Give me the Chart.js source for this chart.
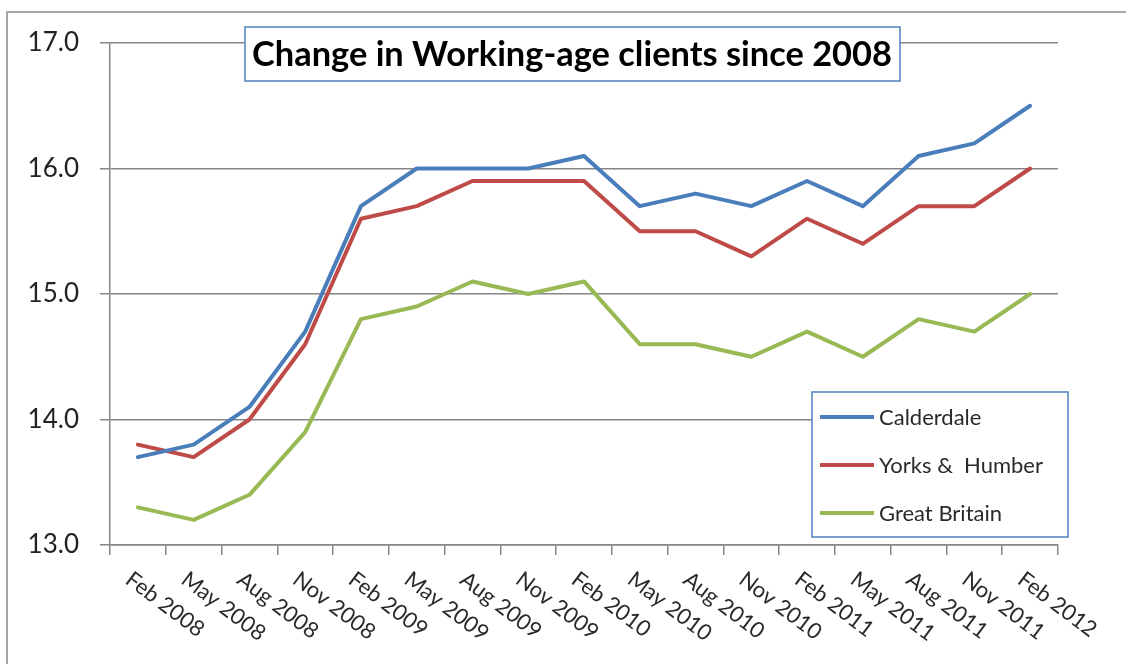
<!DOCTYPE html>
<html>
<head>
<meta charset="utf-8">
<script src="https://cdn.jsdelivr.net/npm/chart.js@4/dist/chart.umd.min.js"></script>
<style>
  html, body { margin: 0; padding: 0; background: #fff; }
  #wrap { width: 1126px; height: 664px; position: relative; }
</style>
</head>
<body>
<div id="wrap"><canvas id="lineChart"></canvas></div>
<script>
// Data
const chartTitle = "Change in Working-age clients since 2008";
const months = ["Feb 2008", "May 2008", "Aug 2008", "Nov 2008", "Feb 2009", "May 2009", "Aug 2009", "Nov 2009",
    "Feb 2010", "May 2010", "Aug 2010", "Nov 2010", "Feb 2011", "May 2011", "Aug 2011", "Nov 2011", "Feb 2012"];
const seriesNames = ["Calderdale", "Yorks &  Humber", "Great Britain"];
const calderdale = [13.7, 13.8, 14.1, 14.7, 15.7, 16.0, 16.0, 16.0, 16.1, 15.7, 15.8, 15.7, 15.9, 15.7, 16.1, 16.2, 16.5];
const yorksHumber = [13.8, 13.7, 14.0, 14.6, 15.6, 15.7, 15.9, 15.9, 15.9, 15.5, 15.5, 15.3, 15.6, 15.4, 15.7, 15.7, 16.0];
const greatBritain = [13.3, 13.2, 13.4, 13.9, 14.8, 14.9, 15.1, 15.0, 15.1, 14.6, 14.6, 14.5, 14.7, 14.5, 14.8, 14.7, 15.0];
const yTicks = [13, 14, 15, 16, 17];

const colors = ["#4A7EBB", "#BE4B48", "#98B954"];
const font = "Lato, 'Open Sans', sans-serif";

// outer frame, title box, legend box and slanted month labels
const extras = {
    id: "extras",
    beforeDraw(chart) {
        const ctx = chart.ctx;
        ctx.save();
        ctx.strokeStyle = "#a6a6a6";
        ctx.lineWidth = 2;
        ctx.beginPath();
        ctx.moveTo(7, 664);
        ctx.lineTo(7, 12);
        ctx.lineTo(1126, 12);
        ctx.stroke();
        ctx.restore();
    },
    afterDraw(chart) {
        const ctx = chart.ctx;
        const xs = chart.scales.x;
        ctx.save();

        // month labels, running down to the right
        ctx.fillStyle = "#2a2a2a";
        ctx.font = "22px " + font;
        ctx.textAlign = "left";
        ctx.textBaseline = "top";
        months.forEach((m, i) => {
            const x = xs.getPixelForValue(i);
            ctx.save();
            ctx.translate(x - 3, 568);
            ctx.rotate(37 * Math.PI / 180);
            ctx.fillText(m, 0, 0);
            ctx.restore();
        });

        // title box
        ctx.fillStyle = "#fff";
        ctx.fillRect(245, 27, 655, 54);
        ctx.strokeStyle = "#4F81BD";
        ctx.lineWidth = 1.5;
        ctx.strokeRect(245, 27, 655, 54);
        let size = 28;
        ctx.font = "bold " + size + "px " + font;
        size = size * 640 / ctx.measureText(chartTitle).width;
        ctx.font = "bold " + size.toFixed(1) + "px " + font;
        ctx.fillStyle = "#000";
        ctx.textAlign = "center";
        ctx.textBaseline = "middle";
        ctx.fillText(chartTitle, 572, 55);

        // legend box
        ctx.fillStyle = "#fff";
        ctx.fillRect(812, 392, 256, 145);
        ctx.strokeRect(812, 392, 256, 145);
        ctx.font = "22px " + font;
        ctx.textAlign = "left";
        chart.data.datasets.forEach((ds, i) => {
            const y = 417 + i * 48;
            ctx.strokeStyle = ds.borderColor;
            ctx.lineWidth = 4;
            ctx.beginPath();
            ctx.moveTo(820, y);
            ctx.lineTo(874, y);
            ctx.stroke();
            ctx.fillStyle = "#2a2a2a";
            ctx.fillText(ds.label, 879, y + 1);
        });
        ctx.restore();
    }
};

const ctx = document.getElementById("lineChart").getContext("2d");
new Chart(ctx, {
    type: "line",
    data: {
        labels: months,
        datasets: [
            { label: seriesNames[0], data: calderdale, borderColor: colors[0], backgroundColor: colors[0] },
            { label: seriesNames[1], data: yorksHumber, borderColor: colors[1], backgroundColor: colors[1] },
            { label: seriesNames[2], data: greatBritain, borderColor: colors[2], backgroundColor: colors[2] }
        ]
    },
    options: {
        responsive: true,
        maintainAspectRatio: false,
        animation: false,
        layout: { padding: { left: 0, right: 68, top: 43, bottom: 0 } },
        elements: {
            line: { borderWidth: 4, tension: 0, borderJoinStyle: "round", borderCapStyle: "round" },
            point: { radius: 0, hoverRadius: 0 }
        },
        plugins: {
            legend: { display: false },
            title: { display: false },
            tooltip: { enabled: false }
        },
        scales: {
            x: {
                offset: true,
                afterFit: s => { s.height = 119; },
                grid: {
                    offset: true,
                    drawOnChartArea: false,
                    drawTicks: true,
                    tickLength: 10,
                    color: "#868686",
                    lineWidth: 1.5
                },
                border: { color: "#868686", width: 1.5 },
                ticks: { display: false, autoSkip: false }
            },
            y: {
                min: 13,
                max: 17,
                afterFit: s => { s.width = 110; },
                afterBuildTicks: s => { s.ticks = yTicks.map(v => ({ value: v })); },
                grid: { color: "#868686", lineWidth: 1.5, tickLength: 10 },
                border: { color: "#868686", width: 1.5 },
                ticks: {
                    padding: 21,
                    color: "#222",
                    font: { family: font, size: 26 },
                    callback: v => Number(v).toFixed(1)
                }
            }
        }
    },
    plugins: [extras]
});
</script>
</body>
</html>
